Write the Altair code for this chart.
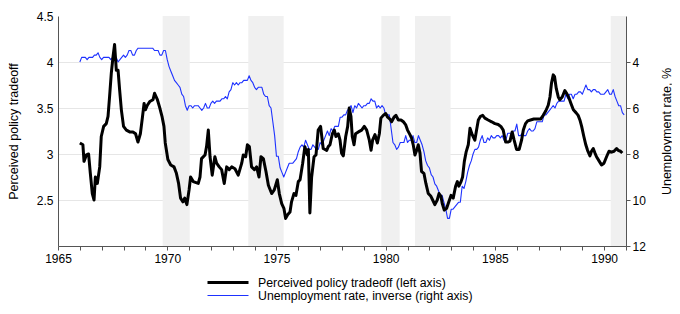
import altair as alt
import pandas as pd

# Monthly unemployment rate (%), Jan 1966 - Dec 1990
unemployment = [
    4.0, 3.8, 3.8, 3.8, 3.9, 3.8, 3.8, 3.8, 3.7, 3.7, 3.6, 3.8,
    3.9, 3.8, 3.8, 3.8, 3.8, 3.9, 3.8, 3.8, 3.8, 4.0, 3.9, 3.8,
    3.7, 3.8, 3.7, 3.5, 3.5, 3.7, 3.7, 3.5, 3.4, 3.4, 3.4, 3.4,
    3.4, 3.4, 3.4, 3.4, 3.4, 3.5, 3.5, 3.5, 3.7, 3.7, 3.5, 3.5,
    3.9, 4.2, 4.4, 4.6, 4.8, 4.9, 5.0, 5.1, 5.4, 5.5, 5.9, 6.1,
    5.9, 5.9, 6.0, 5.9, 5.9, 5.9, 6.0, 6.1, 6.0, 5.8, 6.0, 6.0,
    5.8, 5.7, 5.8, 5.7, 5.7, 5.7, 5.6, 5.6, 5.5, 5.6, 5.3, 5.2,
    4.9, 5.0, 4.9, 5.0, 4.9, 4.9, 4.8, 4.8, 4.8, 4.6, 4.8, 4.9,
    5.1, 5.2, 5.1, 5.1, 5.1, 5.4, 5.5, 5.5, 5.9, 6.0, 6.6, 7.2,
    8.1, 8.1, 8.6, 8.8, 9.0, 8.8, 8.6, 8.4, 8.4, 8.4, 8.3, 8.2,
    7.9, 7.7, 7.6, 7.7, 7.4, 7.6, 7.8, 7.8, 7.6, 7.7, 7.8, 7.8,
    7.5, 7.6, 7.4, 7.2, 7.0, 7.2, 6.9, 7.0, 6.8, 6.8, 6.8, 6.4,
    6.4, 6.3, 6.3, 6.1, 6.0, 5.9, 6.2, 5.9, 6.0, 5.8, 5.9, 6.0,
    5.9, 5.9, 5.8, 5.8, 5.6, 5.7, 5.7, 6.0, 5.9, 6.0, 5.9, 6.0,
    6.3, 6.3, 6.3, 6.9, 7.5, 7.6, 7.8, 7.7, 7.5, 7.5, 7.5, 7.2,
    7.5, 7.4, 7.4, 7.2, 7.5, 7.5, 7.2, 7.4, 7.6, 7.9, 8.3, 8.5,
    8.6, 8.9, 9.0, 9.3, 9.4, 9.6, 9.8, 9.8, 10.1, 10.4, 10.8, 10.8,
    10.4, 10.4, 10.3, 10.2, 10.1, 10.1, 9.4, 9.5, 9.2, 8.8, 8.5, 8.3,
    8.0, 7.8, 7.8, 7.7, 7.4, 7.2, 7.5, 7.5, 7.3, 7.4, 7.2, 7.3,
    7.3, 7.2, 7.2, 7.3, 7.2, 7.4, 7.4, 7.1, 7.1, 7.1, 7.0, 7.0,
    6.7, 7.2, 7.2, 7.1, 7.2, 7.2, 7.0, 6.9, 7.0, 7.0, 6.9, 6.6,
    6.6, 6.6, 6.6, 6.3, 6.3, 6.2, 6.1, 6.0, 5.9, 6.0, 5.8, 5.7,
    5.7, 5.7, 5.7, 5.4, 5.6, 5.4, 5.4, 5.6, 5.4, 5.4, 5.3, 5.3,
    5.4, 5.2, 5.0, 5.2, 5.2, 5.3, 5.2, 5.2, 5.3, 5.3, 5.4, 5.4,
    5.4, 5.3, 5.2, 5.4, 5.4, 5.2, 5.5, 5.7, 5.9, 5.9, 6.2, 6.3,
]
unemployment_start = 1966

tradeoff_years = [
    1966.00, 1966.14, 1966.19, 1966.30, 1966.40, 1966.48, 1966.57, 1966.65, 1966.71, 1966.80,
    1966.91, 1966.98, 1967.09, 1967.21, 1967.29, 1967.36, 1967.44, 1967.52, 1967.59, 1967.67,
    1967.75, 1967.82, 1967.90, 1968.00, 1968.13, 1968.28, 1968.43, 1968.55, 1968.66, 1968.77,
    1968.86, 1968.94, 1969.00, 1969.09, 1969.20, 1969.35, 1969.42, 1969.55, 1969.65, 1969.76,
    1969.85, 1969.91, 1970.03, 1970.16, 1970.31, 1970.42, 1970.52, 1970.61, 1970.72, 1970.80,
    1970.90, 1971.00, 1971.07, 1971.19, 1971.42, 1971.50, 1971.57, 1971.73, 1971.80, 1971.88,
    1971.96, 1972.06, 1972.18, 1972.26, 1972.38, 1972.49, 1972.61, 1972.72, 1972.84, 1972.95,
    1973.10, 1973.25, 1973.41, 1973.48, 1973.59, 1973.67, 1973.76, 1973.86, 1973.99, 1974.09,
    1974.20, 1974.29, 1974.40, 1974.52, 1974.63, 1974.78, 1974.90, 1975.04, 1975.13, 1975.24,
    1975.34, 1975.42, 1975.51, 1975.62, 1975.69, 1975.80, 1975.89, 1976.00, 1976.08, 1976.20,
    1976.30, 1976.41, 1976.46, 1976.53, 1976.61, 1976.72, 1976.81, 1976.91, 1977.02, 1977.14,
    1977.30, 1977.37, 1977.45, 1977.56, 1977.65, 1977.72, 1977.83, 1977.91, 1977.98, 1978.06,
    1978.17, 1978.26, 1978.33, 1978.41, 1978.47, 1978.55, 1978.62, 1978.75, 1978.90, 1979.02,
    1979.13, 1979.25, 1979.33, 1979.40, 1979.51, 1979.62, 1979.71, 1979.78, 1979.89, 1980.00,
    1980.09, 1980.19, 1980.27, 1980.38, 1980.47, 1980.58, 1980.70, 1980.81, 1980.91, 1981.00,
    1981.11, 1981.19, 1981.26, 1981.34, 1981.42, 1981.49, 1981.57, 1981.64, 1981.75, 1981.84,
    1981.95, 1982.07, 1982.15, 1982.25, 1982.36, 1982.44, 1982.53, 1982.59, 1982.68, 1982.79,
    1982.89, 1982.99, 1983.09, 1983.20, 1983.28, 1983.35, 1983.45, 1983.52, 1983.60, 1983.68,
    1983.78, 1983.86, 1983.96, 1984.08, 1984.16, 1984.24, 1984.34, 1984.44, 1984.54, 1984.69,
    1984.85, 1985.00, 1985.15, 1985.27, 1985.38, 1985.49, 1985.61, 1985.69, 1985.79, 1985.88,
    1985.99, 1986.11, 1986.22, 1986.30, 1986.40, 1986.50, 1986.63, 1986.78, 1986.94, 1987.09,
    1987.21, 1987.33, 1987.44, 1987.52, 1987.59, 1987.67, 1987.73, 1987.81, 1987.90, 1987.97,
    1988.08, 1988.20, 1988.28, 1988.39, 1988.48, 1988.59, 1988.71, 1988.81, 1988.89, 1988.97,
    1989.07, 1989.16, 1989.24, 1989.35, 1989.42, 1989.50, 1989.58, 1989.65, 1989.78, 1989.88,
    1989.99, 1990.11, 1990.22, 1990.34, 1990.45, 1990.57, 1990.64, 1990.75, 1990.83,
]
tradeoff_values = [
    3.12, 3.10, 2.92, 2.99, 3.00, 2.79, 2.57, 2.50, 2.75, 2.68,
    2.86, 3.19, 3.30, 3.33, 3.41, 3.62, 3.88, 4.06, 4.19, 3.91,
    3.91, 3.70, 3.48, 3.30, 3.26, 3.24, 3.24, 3.22, 3.13, 3.22,
    3.39, 3.55, 3.48, 3.53, 3.57, 3.59, 3.66, 3.59, 3.51, 3.41,
    3.30, 3.12, 2.94, 2.88, 2.86, 2.79, 2.68, 2.52, 2.48, 2.52,
    2.45, 2.61, 2.75, 2.70, 2.68, 2.75, 2.95, 2.99, 3.08, 3.26,
    2.97, 2.77, 2.97, 2.90, 2.86, 2.83, 2.68, 2.86, 2.83, 2.86,
    2.84, 2.77, 2.90, 2.99, 2.97, 3.10, 3.08, 2.86, 2.83, 2.86,
    2.75, 2.97, 2.95, 2.81, 2.66, 2.57, 2.61, 2.72, 2.57, 2.46,
    2.41, 2.30, 2.34, 2.37, 2.48, 2.57, 2.55, 2.70, 2.72, 2.90,
    3.08, 2.99, 3.05, 2.36, 2.75, 2.97, 2.99, 3.26, 3.30, 3.06,
    3.04, 3.08, 3.10, 3.22, 3.26, 3.19, 3.22, 3.15, 3.01, 2.98,
    3.19, 3.30, 3.50, 3.41, 3.19, 3.10, 3.22, 3.24, 3.26, 3.30,
    3.26, 3.15, 3.04, 3.15, 3.21, 3.12, 3.22, 3.39, 3.42, 3.44,
    3.40, 3.38, 3.35, 3.40, 3.42, 3.37, 3.37, 3.35, 3.32, 3.26,
    3.21, 3.17, 3.10, 2.99, 3.04, 3.10, 3.01, 2.81, 2.79, 2.68,
    2.57, 2.54, 2.50, 2.45, 2.50, 2.57, 2.54, 2.46, 2.39, 2.41,
    2.48, 2.55, 2.52, 2.65, 2.70, 2.65, 2.70, 2.75, 2.92, 3.02,
    3.10, 3.28, 3.21, 3.15, 3.26, 3.37, 3.41, 3.42, 3.39, 3.37,
    3.35, 3.33, 3.32, 3.30, 3.26, 3.13, 3.13, 3.14, 3.24, 3.15,
    3.05, 3.05, 3.15, 3.26, 3.33, 3.36, 3.37, 3.38, 3.38, 3.38,
    3.42, 3.47, 3.53, 3.62, 3.77, 3.86, 3.84, 3.71, 3.62, 3.59,
    3.62, 3.69, 3.66, 3.61, 3.55, 3.48, 3.45, 3.42, 3.37, 3.30,
    3.19, 3.10, 3.04, 2.98, 3.03, 3.06, 3.01, 2.97, 2.92, 2.88,
    2.90, 2.97, 3.03, 3.02, 3.03, 3.06, 3.04, 3.03, 3.01,
]

recession_start = [1969.79, 1973.71, 1979.80, 1981.34, 1990.30]
recession_end = [1971.03, 1975.33, 1980.64, 1982.97, 1991.00]

series_names = [
    "Perceived policy tradeoff (left axis)",
    "Unemployment rate, inverse (right axis)",
]
series_colors = ["#000000", "#1e32ff"]
series_widths = [3.0, 1.1]

year_ticks = list(range(1965, 1992))
left_ticks = [2.5, 3, 3.5, 4, 4.5]
right_ticks = [4, 6, 8, 10, 12]

df_u = pd.DataFrame({
    "year": [unemployment_start + i / 12 for i in range(len(unemployment))],
    "value": unemployment,
    "series": series_names[1],
})
df_t = pd.DataFrame({"year": tradeoff_years, "value": tradeoff_values, "series": series_names[0]})
df_r = pd.DataFrame({"start": recession_start, "end": recession_end})

FONT = "Liberation Sans"
x_scale = alt.Scale(domain=[1965, 1991], nice=False, zero=False)
color_scale = alt.Scale(domain=series_names, range=series_colors)
width_scale = alt.Scale(domain=series_names, range=series_widths)

x_axis = alt.Axis(
    values=year_ticks, title=None, grid=False,
    labelExpr="datum.value % 5 == 0 ? '' + datum.value : ''",
    labelOverlap=False, labelFlush=False, tickSize=4, labelPadding=3,
)

legend = alt.Legend(
    title=None, orient="none", legendX=148, legendY=262,
    direction="vertical", symbolType="stroke", symbolSize=1681,
    labelFontSize=12.3, labelFont=FONT, labelColor="#000000", labelLimit=0,
    clipHeight=9, rowPadding=0, padding=0, labelOffset=8,
)

bands = alt.Chart(df_r).mark_rect(color="#f0f0f0").encode(
    x=alt.X("start:Q", scale=x_scale, axis=x_axis),
    x2="end:Q",
)

blue = alt.Chart(df_u).mark_line(strokeJoin="round").encode(
    x=alt.X("year:Q", scale=x_scale, axis=x_axis),
    y=alt.Y(
        "value:Q",
        scale=alt.Scale(domain=[2, 12], reverse=True, nice=False, zero=False),
        axis=alt.Axis(
            orient="right", values=right_ticks, title="Unemployment rate, %",
            grid=True, gridColor="#e6e6e6", gridWidth=1.2,
            tickSize=4, labelPadding=2, format="d",
            titleAngle=-90, titleX=40, titleY=115, titleBaseline="middle", titleAlign="center",
        ),
    ),
    color=alt.Color("series:N", scale=color_scale, legend=legend),
    strokeWidth=alt.StrokeWidth("series:N", scale=width_scale, legend=legend),
)

black = alt.Chart(df_t).mark_line(strokeJoin="round").encode(
    x=alt.X("year:Q", scale=x_scale, axis=x_axis),
    y=alt.Y(
        "value:Q",
        scale=alt.Scale(domain=[2, 4.5], nice=False, zero=False),
        axis=alt.Axis(
            orient="left", values=left_ticks, title="Perceived policy tradeoff",
            grid=False, ticks=False, labelPadding=5, format="~g",
            titleAngle=-90, titleX=-45, titleY=115, titleBaseline="middle", titleAlign="center",
        ),
    ),
    color=alt.Color("series:N", scale=color_scale, legend=legend),
    strokeWidth=alt.StrokeWidth("series:N", scale=width_scale, legend=legend),
)

chart = (
    alt.layer(bands, blue, black)
    .resolve_scale(y="independent")
    .properties(
        width=568, height=230,
        autosize=alt.AutoSizeParams(type="none"),
        padding={"left": 50, "top": 8, "right": 46, "bottom": 60},
        background="white",
    )
    .configure_view(stroke=None)
    .configure_axis(
        labelFont=FONT, titleFont=FONT, labelFontSize=12, titleFontSize=12.5,
        labelColor="#000000", titleColor="#000000", titleFontWeight="normal",
        domainColor="#555555", tickColor="#555555", domainWidth=1,
    )
)

chart.save("out.html", embed_options={"renderer": "svg", "actions": False})
